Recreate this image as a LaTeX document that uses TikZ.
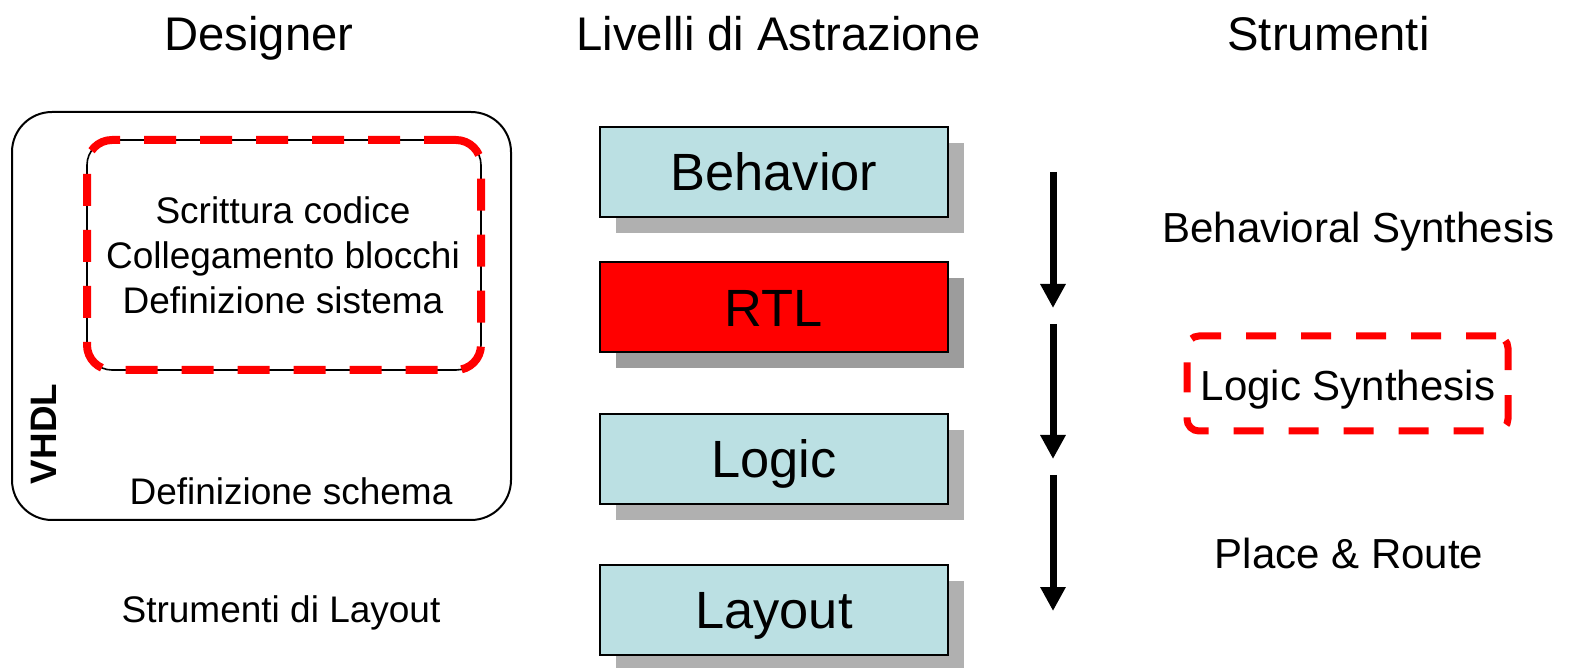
\documentclass[tikz,border=0pt]{standalone}
\usepackage{fontspec}
\setmainfont{Liberation Sans}
\usetikzlibrary{arrows.meta,shadows}
\definecolor{levelfill}{HTML}{BBE0E3}
\definecolor{shade}{HTML}{B0B0B0}
\definecolor{shadedark}{HTML}{9C9C9C}
\definecolor{hotred}{HTML}{FF0000}
\begin{document}
\begin{tikzpicture}[x=0.5pt,y=-0.5pt,
  heading/.style={inner sep=0pt, text height=16.9pt, text depth=0pt,
    font=\fontsize{23.6}{28}\selectfont},
  small/.style={inner sep=0pt, text height=13.25pt, text depth=0pt,
    font=\fontsize{18.5}{22}\selectfont},
  tool/.style={inner sep=0pt, text height=15pt, text depth=0pt,
    font=\fontsize{21}{25}\selectfont},
  level/.style={inner sep=0pt, text height=18.76pt, text depth=0pt,
    draw=black, line width=1pt, fill=levelfill,
    minimum width=174pt, minimum height=45pt,
    font=\fontsize{26.2}{30}\selectfont,
    drop shadow={shadow xshift=8pt, shadow yshift=-8pt, fill=shade, opacity=1}},
  reddash/.style={draw=hotred, line width=4pt, dash pattern=on 16pt off 12pt},
  flow/.style={line width=3.5pt, -{Triangle[width=12pt,length=12pt]}}
]
\useasboundingbox (0,0) rectangle (1571,668);

% column headings
\node[heading] (hdes) at (259,34) {Designer};
\node[heading] (hlev) at (778.5,34) {Livelli di Astrazione};
\node[heading] (htool) at (1328.5,34) {Strumenti};

% designer side
\node[draw=black, line width=1pt, rounded corners=20pt,
      minimum width=249.5pt, minimum height=204pt] (outer) at (261.5,316) {};
\node[draw=black, line width=0.8pt, rounded corners=12.5pt,
      minimum width=197pt, minimum height=115pt,
      postaction={reddash}] (inner) at (284,255) {};
\node[small] (l1) at (283,210) {Scrittura codice};
\node[small] (l2) at (283,255) {Collegamento blocchi};
\node[small] (l3) at (283,300) {Definizione sistema};
\node[small, text height=13.2pt, font=\fontsize{18.4}{22}\selectfont\bfseries, rotate=90] (vhdl) at (43.5,434) {VHDL};
\node[small] (schema) at (291,491) {Definizione schema};
\node[small] (laytool) at (281,609) {Strumenti di Layout};

% abstraction levels
\node[level] (beh) at (774,172) {Behavior};
\node[level, fill=hotred, drop shadow={shadow xshift=8pt, shadow yshift=-8pt, fill=shadedark, opacity=1}] (rtl) at (774,307.5) {RTL};
\node[level] (logic) at (774,459) {Logic};
\node[level] (layout) at (774,610) {Layout};

% synthesis flow
\coordinate (a1s) at (1053,172);
\coordinate (a1e) at (1053,308);
\coordinate (a2s) at (1053,324);
\coordinate (a2e) at (1053,459);
\coordinate (a3s) at (1053,475);
\coordinate (a3e) at (1053,611);
\draw[flow] (a1s) -- (a1e);
\draw[flow] (a2s) -- (a2e);
\draw[flow] (a3s) -- (a3e);

% tools
\node[tool] (bsyn) at (1358.5,228) {Behavioral Synthesis};
\node[tool] (lsyn) at (1348,386) {Logic Synthesis};
\node[draw=hotred, line width=3.5pt, dash pattern=on 15pt off 12.5pt,
      rounded corners=6pt, minimum width=160.5pt, minimum height=47.5pt] (lbox) at (1347.5,383.5) {};
\node[tool] (pr) at (1349,553) {Place \& Route};
\end{tikzpicture}
\end{document}
